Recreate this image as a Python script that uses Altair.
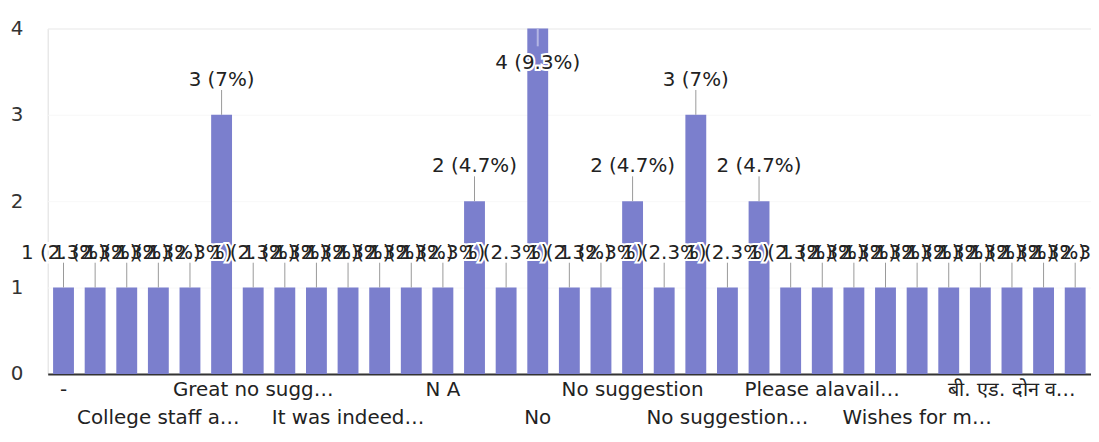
import json
import altair as alt
import pandas as pd

# Answers (sorted as in the reference) and their response counts
categories = [
    "-", "All good", "Best", "College staff a…", "Excellent", "Good",
    "Great no sugg…", "Huge library", "I am satisfied", "It was indeed…",
    "Keep it up", "Library is good", "N A", "NA", "Nice", "No",
    "No comments", "No issues", "No suggestion", "No suggestion.",
    "No suggestions", "No suggestion…", "Nothing", "Ok",
    "Please alavail…", "Satisfied", "Very good", "Wishes for m…",
    "good", "nil", "बी. एड. दोन व…", "सर्व छान", "सुविधा उत्तम",
]
counts = [1, 1, 1, 1, 1, 3, 1, 1, 1, 1, 1, 1, 1, 2, 1, 4, 1, 1, 2, 1, 3,
          1, 2, 1, 1, 1, 1, 1, 1, 1, 1, 1, 1]

# Tick labels shown on the axis (two staggered rows)
row1_labels = ["-", "Great no sugg…", "N A", "No suggestion",
               "Please alavail…", "बी. एड. दोन व…"]
row2_labels = ["College staff a…", "It was indeed…", "No",
               "No suggestion…", "Wishes for m…"]
y_ticks = [0, 1, 2, 3, 4]

df = pd.DataFrame({"answer": categories, "count": counts})

r1 = json.dumps(row1_labels, ensure_ascii=False)
r2 = json.dumps(row2_labels, ensure_ascii=False)
label_expr = (
    f"indexof({r1}, datum.value) >= 0 ? datum.value : "
    f"(indexof({r2}, datum.value) >= 0 ? ['', datum.value] : '')"
)

FONT = "DejaVu Sans"
BAR = "#7b7fcd"

x = alt.X(
    "answer:N",
    sort=None,
    scale=alt.Scale(paddingInner=0.34, paddingOuter=0.17),
    axis=alt.Axis(
        title=None, labelExpr=label_expr, labelAngle=0, labelOverlap=False,
        ticks=False, domainColor="#333333", domainWidth=2, labelPadding=6,
        labelFontSize=20, labelColor="#222222", labelLineHeight=28,
        labelLimit=400, labelBaseline="top", labelFont=FONT,
    ),
)
y = alt.Y(
    "count:Q",
    scale=alt.Scale(domain=[0, 4], nice=False),
    axis=alt.Axis(
        title=None, values=y_ticks, format="d", domain=False, ticks=False,
        labelPadding=25, labelFontSize=20, labelColor="#333333",
        labelFont=FONT, gridColor="#f8f8f8",
    ),
)

base = (
    alt.Chart(df)
    .transform_joinaggregate(total="sum(count)")
    .transform_calculate(
        label="datum.count + ' (' + format(datum.count / datum.total * 100, '.1~f') + '%)'"
    )
)

bars = base.mark_bar(color=BAR).encode(x=x, y=y)

low = base.transform_filter("datum.count < 4")
high = base.transform_filter("datum.count >= 4")

stems_low = low.mark_rule(color="#999999", strokeWidth=1, y2Offset=-25).encode(
    x=x, y=y, y2="count:Q"
)
stems_high = high.mark_rule(color="#b4b6e4", strokeWidth=2, y2Offset=18).encode(
    x=x, y=y, y2="count:Q"
)

halo_low = low.mark_text(
    dy=-35, fontSize=20, font=FONT, fill="white", stroke="white", strokeWidth=4
).encode(x=x, y=y, text="label:N")
text_low = low.mark_text(dy=-35, fontSize=20, font=FONT, color="#222222").encode(
    x=x, y=y, text="label:N"
)
halo_high = high.mark_text(
    dy=35, fontSize=20, font=FONT, fill="white", stroke="white", strokeWidth=4
).encode(x=x, y=y, text="label:N")
text_high = high.mark_text(dy=35, fontSize=20, font=FONT, color="#222222").encode(
    x=x, y=y, text="label:N"
)

chart = (
    alt.layer(bars, stems_low, stems_high, halo_low, text_low, halo_high, text_high)
    .properties(
        width=1051,
        height=348,
        autosize=alt.AutoSizeParams(type="none"),
        padding={"left": 40, "top": 19, "right": 0, "bottom": 67},
        background="white",
    )
    .configure_view(stroke=None)
    .configure(font=FONT)
)

chart.save("out.html", embed_options={"renderer": "svg", "actions": False})
